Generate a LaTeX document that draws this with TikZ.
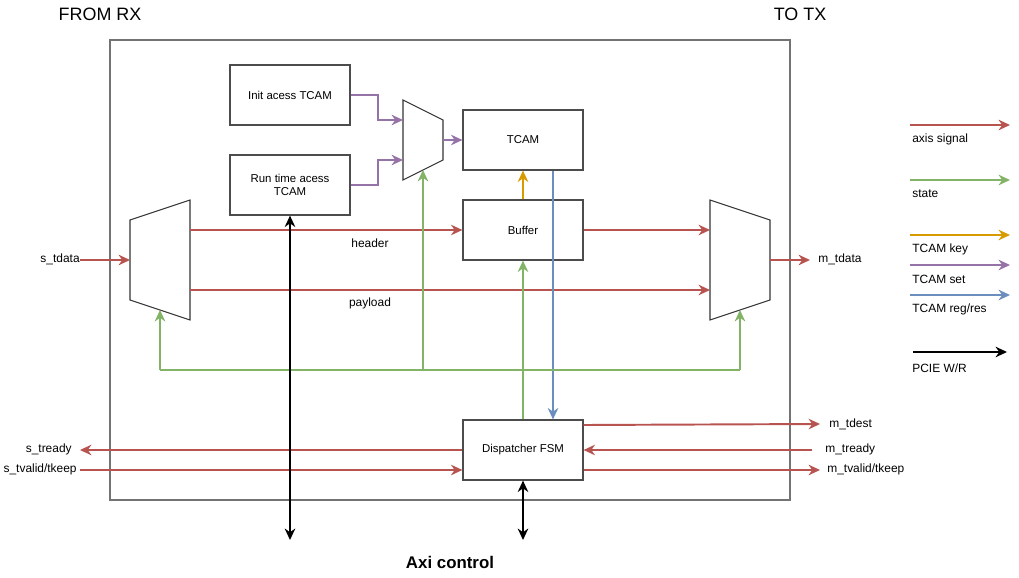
\documentclass[tikz,border=0pt]{standalone}
\usepackage{fontspec}
\setmainfont{Liberation Sans}
\usetikzlibrary{positioning}
\usetikzlibrary{arrows.meta}
\usetikzlibrary{calc}
\definecolor{axisred}{HTML}{B85450}
\definecolor{stategreen}{HTML}{82B366}
\definecolor{keyorange}{HTML}{D79B00}
\definecolor{setpurple}{HTML}{9673A6}
\definecolor{resblue}{HTML}{6C8EBF}
\tikzset{
    block/.style = {rectangle, draw=black!70, line width=0.7pt, minimum width=2.4cm, minimum height=1.2cm, align=center, font=\fontsize{6.5}{7.6}\selectfont},
    frame/.style = {rectangle, draw=black!55, line width=0.8pt, minimum width=13.6cm, minimum height=9.2cm},
    muxshape/.style = {draw=black!80, line width=0.6pt},
    lbl/.style = {inner sep=0pt, font=\fontsize{6.8}{8}\selectfont},
    ttl/.style = {inner sep=0pt, font=\fontsize{10.2}{12}\selectfont},
    tip/.style = {-{Stealth[length=6.5pt,width=6pt]}},
    axis/.style = {tip, line width=1.1pt, axisred}, % data path
    state/.style = {tip, line width=1.1pt, stategreen}, % select
    statebus/.style = {line width=1.1pt, stategreen},
    tkey/.style = {tip, line width=1.1pt, keyorange},
    tset/.style = {tip, line width=1.1pt, setpurple},
    tres/.style = {tip, line width=1.1pt, resblue},
    pcie/.style = {tip, line width=1.1pt, black},
    pcieb/.style = {{Stealth[length=6.5pt,width=6pt]}-{Stealth[length=6.5pt,width=6pt]}, line width=1.1pt, black}
}

\begin{document}
\begin{tikzpicture}[x=0.02cm,y=-0.02cm]
\useasboundingbox (0,0) rectangle (1019,578);
\node[ttl] at (100,14) (rx) {FROM RX};
\node[ttl] at (800,14) (tx) {TO TX};
\node[frame] at (450,270) (core) {};
%
\node[block] at (290,95) (init) {Init acess TCAM};
\node[block] at (290,185) (run) {Run time acess\\TCAM};
\node[block] at (523,140) (tcam) {TCAM};
\node[block] at (523,230) (buf) {Buffer};
\node[block] at (523,450) (fsm) {Dispatcher FSM};
%
% mux shapes
\draw[muxshape] (130,220) -- (190,200) -- (190,320) -- (130,300) -- cycle;
\coordinate (dmx-in) at (130,260);
\coordinate (dmx-hd) at (190,230);
\coordinate (dmx-pl) at (190,290);
\coordinate (dmx-sel) at (160,310);
\draw[muxshape] (403,100) -- (443,120) -- (443,160) -- (403,180) -- cycle;
\coordinate (smx-a) at (403,120);
\coordinate (smx-b) at (403,160);
\coordinate (smx-out) at (443,140);
\coordinate (smx-sel) at (423,170);
\draw[muxshape] (710,200) -- (770,220) -- (770,300) -- (710,320) -- cycle;
\coordinate (omx-hd) at (710,230);
\coordinate (omx-pl) at (710,290);
\coordinate (omx-out) at (770,260);
\coordinate (omx-sel) at (740,310);
%
% stream in / out
\node[lbl, anchor=east] at (80,259) (stdata) {s\_tdata};
\node[lbl] at (370,243) (hdr) {header};
\node[lbl] at (370,303) (pld) {payload};
\node[lbl, anchor=west] at (818,259) (mtdata) {m\_tdata};
\coordinate (mtdata-in) at (810,260);
\draw[axis] (stdata.east |- dmx-in) -- (dmx-in);
\draw[axis] (dmx-hd) -- (buf.west |- dmx-hd);
\draw[axis] (dmx-pl) -- (omx-pl);
\draw[axis] (buf.east) -- (omx-hd);
\draw[axis] (omx-out) -- (mtdata-in);
%
% tcam access
\draw[tset] (init.east) -- ++(27,0) |- (smx-a);
\draw[tset] (run.east) -- ++(27,0) |- (smx-b);
\draw[tset] (smx-out) -- (tcam.west);
\draw[tkey] (buf.north) -- (tcam.south);
\draw[tres] ($(tcam.south)+(30,0)$) -- ($(fsm.north)+(30,0)$);
%
% state
\coordinate (bus) at (523,370);
\draw[statebus] (bus -| dmx-sel) -- (bus -| omx-sel);
\draw[state] (bus -| dmx-sel) -- (dmx-sel);
\draw[state] (bus -| smx-sel) -- (smx-sel);
\draw[state] (bus -| omx-sel) -- (omx-sel);
\draw[state] (fsm.north) -- (buf.south);
%
% handshake
\node[lbl, anchor=east] at (72,449) (strdy) {s\_tready};
\node[lbl, anchor=east] at (77,469) (stvld) {s\_tvalid/tkeep};
\node[lbl, anchor=west] at (829,424) (mtdst) {m\_tdest};
\node[lbl, anchor=west] at (825,449) (mtrdy) {m\_tready};
\node[lbl, anchor=west] at (827,469) (mtvld) {m\_tvalid/tkeep};
\coordinate (strdy-in) at (80,450);
\coordinate (stvld-out) at (80,470);
\coordinate (mtdst-in) at (820,424);
\coordinate (mtrdy-out) at (812,450);
\coordinate (mtvld-in) at (820,470);
\draw[axis] (fsm.west) -- (strdy-in);
\draw[axis] (stvld-out) -- (fsm.west |- stvld-out);
\draw[axis] ($(fsm.east)+(0,-25)$) -- (mtdst-in);
\draw[axis] (mtrdy-out) -- (fsm.east);
\draw[axis] ($(fsm.east)+(0,20)$) -- (mtvld-in);
%
% axi control
\coordinate (axi-a) at (290,540);
\coordinate (axi-b) at (523,540);
\draw[pcieb] (run.south) -- (axi-a);
\draw[pcieb] (fsm.south) -- (axi-b);
\node[ttl, font=\fontsize{9.6}{11}\selectfont\bfseries] at (450,562) (axi) {Axi control};
%
% legend
\coordinate (lg1) at (910,125);
\coordinate (lg2) at (910,180);
\coordinate (lg3) at (910,235);
\coordinate (lg4) at (910,265);
\coordinate (lg5) at (910,295);
\coordinate (lg6) at (913,352);
\draw[axis] (lg1) -- ++(100,0);
\draw[state] (lg2) -- ++(100,0);
\draw[tkey] (lg3) -- ++(100,0);
\draw[tset] (lg4) -- ++(100,0);
\draw[tres] (lg5) -- ++(100,0);
\draw[pcie] (lg6) -- ++(94,0);
\node[lbl, anchor=west] at (912,139) (lt1) {axis signal};
\node[lbl, anchor=west] at (912,194) (lt2) {state};
\node[lbl, anchor=west] at (912,249) (lt3) {TCAM key};
\node[lbl, anchor=west] at (912,279) (lt4) {TCAM set};
\node[lbl, anchor=west] at (912,309) (lt5) {TCAM reg/res};
\node[lbl, anchor=west] at (912,368) (lt6) {PCIE W/R};
\end{tikzpicture}
\end{document}
